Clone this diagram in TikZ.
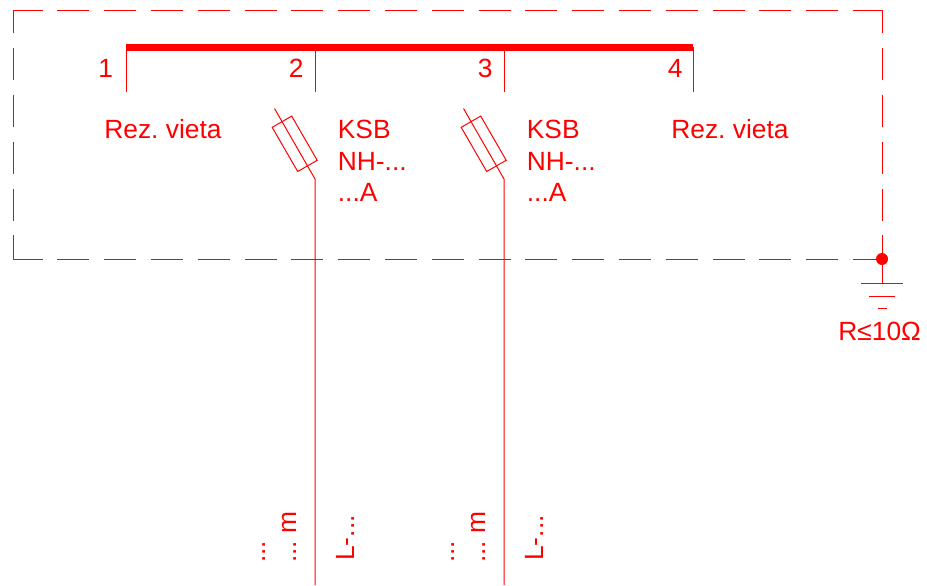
\documentclass[tikz,border=0pt]{standalone}
\usepackage{fontspec}
\setmainfont{Liberation Sans}
\frenchspacing
\tikzset{
	lbl/.style = { red, font = \fontsize{15}{18}\selectfont, inner sep = 0pt, anchor = base west },
	lblup/.style = { lbl, rotate = 90 },
	wire/.style = { red, line width = 0.2mm },
	earthing/.style = { wire, dash pattern = on 6.4mm off 2.96mm },
	fusebox/.style = { wire, draw, rectangle, rotate = -60, minimum width = 10.2mm, minimum height = 4.5mm, inner sep = 0pt }
}
\begin{document}
\begin{tikzpicture}[x = 0.2mm, y = -0.2mm]
	\useasboundingbox ( 0, 0 ) rectangle ( 927, 585 );
	% dashed frame
	\coordinate (frameNW) at ( 13, 10 );
	\coordinate (frameNE) at ( 882, 10 );
	\coordinate (frameSW) at ( 13, 259 );
	\coordinate (frameSE) at ( 882, 259 );
	\draw[earthing, dash phase = 0.5mm] (frameNW) -- (frameNE);
	\draw[earthing, dash phase = 0.5mm] (frameSW) -- (frameSE);
	\draw[earthing, dash phase = 1.74mm] (frameNW) -- (frameSW);
	\draw[earthing, dash phase = 1.74mm] (frameNE) -- (frameSE);
	% bus
	\coordinate (bus1) at ( 126, 47 );
	\coordinate (bus2) at ( 315, 47 );
	\coordinate (bus3) at ( 504, 47 );
	\coordinate (bus4) at ( 693, 47 );
	\coordinate (tick1) at ( 126, 92 );
	\coordinate (tick2) at ( 315, 92 );
	\coordinate (tick3) at ( 504, 92 );
	\coordinate (tick4) at ( 693, 92 );
	\draw[red, line width = 1.4mm] (bus1) -- (bus4);
	\draw[wire] (bus1) -- (tick1);
	\draw[wire] (bus2) -- (tick2);
	\draw[wire] (bus3) -- (tick3);
	\draw[wire] (bus4) -- (tick4);
	\node[lbl] (num1) at ( 98, 77 ) {1};
	\node[lbl] (num2) at ( 288.5, 77 ) {2};
	\node[lbl] (num3) at ( 477.5, 77 ) {3};
	\node[lbl] (num4) at ( 667.5, 77 ) {4};
	\node[lbl] (spare1) at ( 104, 138 ) {Rez. vieta};
	\node[lbl] (spare4) at ( 671, 138 ) {Rez. vieta};
	% first feeder
	\node[fusebox] (fuse2) at ( 294.7, 143.8 ) {};
	\coordinate (blade2) at ( 274.5, 108.5 );
	\coordinate (knee2) at ( 315, 179 );
	\coordinate (end2) at ( 315, 585 );
	\draw[wire] (blade2) -- (knee2) -- (end2);
	\node[lbl] (ksb2) at ( 337.5, 138 ) {KSB};
	\node[lbl] (nh2) at ( 337.5, 170 ) {NH-...};
	\node[lbl] (amp2) at ( 337.5, 201 ) {...A};
	\node[lblup] (len2) at ( 296.5, 563 ) {... m};
	\node[lblup] (dots2) at ( 265.5, 563 ) {...};
	\node[lblup] (cable2) at ( 354, 561 ) {L-...};
	% second feeder
	\node[fusebox] (fuse3) at ( 483.7, 143.8 ) {};
	\coordinate (blade3) at ( 463.5, 108.5 );
	\coordinate (knee3) at ( 504, 179 );
	\coordinate (end3) at ( 504, 585 );
	\draw[wire] (blade3) -- (knee3) -- (end3);
	\node[lbl] (ksb3) at ( 526.5, 138 ) {KSB};
	\node[lbl] (nh3) at ( 526.5, 170 ) {NH-...};
	\node[lbl] (amp3) at ( 526.5, 201 ) {...A};
	\node[lblup] (len3) at ( 485.5, 563 ) {... m};
	\node[lblup] (dots3) at ( 454.5, 563 ) {...};
	\node[lblup] (cable3) at ( 543, 561 ) {L-...};
	% earth
	\coordinate (earth) at ( 882, 283 );
	\coordinate (bar1w) at ( 861, 283 );
	\coordinate (bar1e) at ( 903, 283 );
	\coordinate (bar2w) at ( 869, 296 );
	\coordinate (bar2e) at ( 895, 296 );
	\coordinate (bar3w) at ( 878, 308 );
	\coordinate (bar3e) at ( 887, 308 );
	\fill[red] (frameSE) circle [radius = 6];
	\draw[wire] (frameSE) -- (earth);
	\draw[wire] (bar1w) -- (bar1e);
	\draw[wire] (bar2w) -- (bar2e);
	\draw[wire] (bar3w) -- (bar3e);
	\node[lbl] (ohm) at ( 838, 340 ) {R≤10Ω};
\end{tikzpicture}
\end{document}
